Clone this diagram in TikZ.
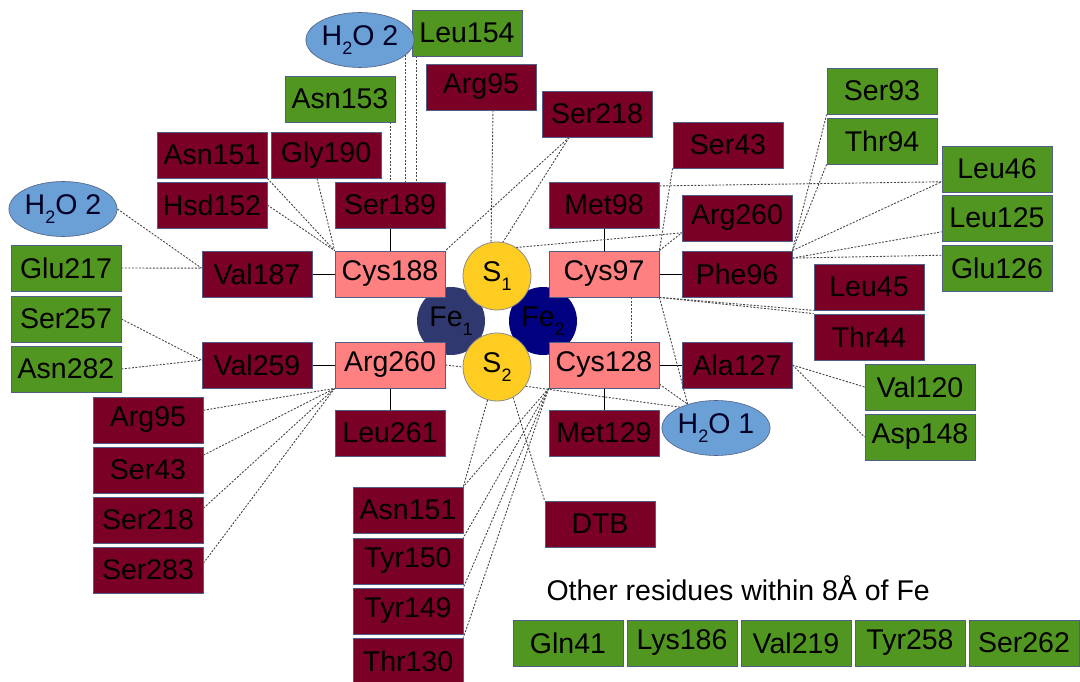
\documentclass[tikz,border=0pt]{standalone}
\usepackage{fontspec}
\setmainfont{Liberation Sans}
\usetikzlibrary{shapes.geometric,calc}
\definecolor{maroonc}{RGB}{123,0,38}
\definecolor{greenc}{RGB}{80,150,32}
\definecolor{pinkc}{RGB}{255,128,128}
\definecolor{yellowc}{RGB}{255,204,34}
\definecolor{fea}{RGB}{48,56,112}
\definecolor{feb}{RGB}{0,0,128}
\definecolor{waterc}{RGB}{106,160,214}
\definecolor{boxline}{RGB}{80,95,135}
\definecolor{dashc}{RGB}{70,70,70}
\newcommand\lowsub[1]{\raisebox{-0.3em}{\fontsize{18}{18}\selectfont #1}}
\pgfdeclarelayer{bg}
\pgfsetlayers{bg,main}
\begin{document}
\begin{tikzpicture}[x=1pt,y=-1pt,
  every node/.style={font=\fontsize{28.5}{32}\selectfont, text=black},
  res/.style={rectangle, minimum width=110pt, minimum height=46pt, inner sep=0pt, draw=boxline, line width=0.8pt},
  rbox/.style={res, fill=maroonc},
  gbox/.style={res, fill=greenc},
  pbox/.style={res, fill=pinkc},
  water/.style={ellipse, minimum width=88pt, minimum height=55pt, inner sep=0pt, fill=waterc, draw=boxline, line width=0.6pt, text=black!85!blue},
  satom/.style={circle, minimum size=68pt, inner sep=0pt, fill=yellowc, draw=black!45, line width=0.8pt},
  featom/.style={circle, minimum size=68pt, inner sep=0pt},
  dl/.style={draw=dashc, dash pattern=on 2pt off 1.5pt, line width=0.9pt},
  sl/.style={draw=black, line width=1pt}]
\useasboundingbox (0,0) rectangle (1080,682);

% iron-sulfur core
\node[featom, fill=fea] (Fe1) at (451,321) {Fe\lowsub{1}};
\node[featom, fill=feb] (Fe2) at (543,321) {Fe\lowsub{2}};
\node[satom] (S1) at (497,276) {S\lowsub{1}};
\node[satom] (S2) at (497,367) {S\lowsub{2}};

% pink ligands
\node[pbox] (Cys188) at (390,274) {Cys188};
\node[pbox] (Arg260l) at (390,365) {Arg260};
\node[pbox] (Cys97) at (604,274) {Cys97};
\node[pbox] (Cys128) at (604,365) {Cys128};

% maroon residues
\node[rbox] (Arg95t) at (481,87) {Arg95};
\node[rbox] (Asn151t) at (212,155) {Asn151};
\node[rbox] (Gly190) at (326,155) {Gly190};
\node[rbox] (Hsd152) at (212,205) {Hsd152};
\node[rbox] (Ser189) at (390,205) {Ser189};
\node[rbox] (Ser218t) at (597,114) {Ser218};
\node[rbox] (Ser43t) at (728,145) {Ser43};
\node[rbox] (Met98) at (604,205) {Met98};
\node[rbox] (Arg260r) at (737,218) {Arg260};
\node[rbox] (Val187) at (257,274) {Val187};
\node[rbox] (Val259) at (257,365) {Val259};
\node[rbox] (Arg95l) at (148,420) {Arg95};
\node[rbox] (Leu261) at (390,433) {Leu261};
\node[rbox] (Phe96) at (737,274) {Phe96};
\node[rbox] (Leu45) at (869,287) {Leu45};
\node[rbox] (Thr44) at (869,337) {Thr44};
\node[rbox] (Ala127) at (737,365) {Ala127};
\node[rbox] (Met129) at (604,433) {Met129};
\node[rbox] (Ser43l) at (148,470) {Ser43};
\node[rbox] (Ser218l) at (148,520) {Ser218};
\node[rbox] (Ser283l) at (148,570) {Ser283};
\node[rbox] (Asn151b) at (408,510) {Asn151};
\node[rbox] (Tyr150) at (408,561) {Tyr150};
\node[rbox] (Tyr149) at (408,611) {Tyr149};
\node[rbox] (Thr130) at (408,661) {Thr130};
\node[rbox] (DTB) at (600,524) {DTB};

% green residues
\node[gbox] (Leu154) at (467,33) {Leu154};
\node[gbox] (Asn153) at (340,99) {Asn153};
\node[gbox] (Ser93) at (882,91) {Ser93};
\node[gbox] (Thr94) at (882,141) {Thr94};
\node[gbox] (Leu46) at (997,169) {Leu46};
\node[gbox] (Leu125) at (997,218) {Leu125};
\node[gbox] (Glu126) at (997,268) {Glu126};
\node[gbox] (Glu217) at (66,268) {Glu217};
\node[gbox] (Ser257) at (66,319) {Ser257};
\node[gbox] (Asn282) at (66,369) {Asn282};
\node[gbox] (Val120) at (920,387) {Val120};
\node[gbox] (Asp148) at (920,437) {Asp148};

% waters
\node[water] (H2Ot) at (360,40) {H\lowsub{2}O 2};
\node[water] (H2Ol) at (63,209) {H\lowsub{2}O 2};
\node[water] (H2O1) at (716,428) {H\lowsub{2}O 1};

% other residues
\node[anchor=base west] (other) at (543,600) {Other residues within 8Å of Fe};
\node[gbox] (Gln41) at (568,643) {Gln41};
\node[gbox] (Lys186) at (682,643) {Lys186};
\node[gbox] (Val219) at (796,643) {Val219};
\node[gbox] (Tyr258) at (910,643) {Tyr258};
\node[gbox] (Ser262) at (1024,643) {Ser262};

\coordinate (a153) at ([xshift=-5pt]Asn153.south east);
\coordinate (l154) at ([xshift=5pt]Leu154.south west);
\coordinate (a95) at ([xshift=12pt]Arg95t.south);
\coordinate (g190) at ([xshift=-9pt]Gly190.south);

\begin{pgfonlayer}{bg}
% solid bonds
\draw[sl] (Ser189.south) -- (Cys188.north);
\draw[sl] (Val187.east) -- (Cys188.west);
\draw[sl] (Val259.east) -- (Arg260l.west);
\draw[sl] (Arg260l.south) -- (Leu261.north);
\draw[sl] (Met98.south) -- (Cys97.north);
\draw[sl] (Cys97.east) -- (Phe96.west);
\draw[sl] (Cys128.east) -- (Ala127.west);
\draw[sl] (Cys128.south) -- (Met129.north);

% dashed contacts, top left
\draw[dl] (a153) -- (a153 |- Ser189.north);
\draw[dl] (H2Ot.342) -- (H2Ot.342 |- Ser189.north);
\draw[dl] (l154) -- (l154 |- Ser189.north);
\draw[dl] (Asn151t.south east) -- (Cys188.north west);
\draw[dl] (Hsd152.east) -- (Cys188.north west);
\draw[dl] (g190) -- (Cys188.north west);
\draw[dl] (H2Ol.east) -- (Val187.174);
\draw[dl] (Glu217.east) -- (Val187.174);
\draw[dl] (Ser257.east) -- (Val259.175);
\draw[dl] (Asn282.east) -- (Val259.175);

% left fan to Arg260
\draw[dl] (Arg95l.10) -- (Arg260l.south west);
\draw[dl] (Ser43l.15) -- (Arg260l.south west);
\draw[dl] (Ser218l.12) -- (Arg260l.south west);
\draw[dl] (Ser283l.7) -- (Arg260l.south west);
\draw[dl] (Arg260l.east) -- (S2.west);

% top centre
\draw[dl] (a95) -- (S1.100);
\draw[dl] (Ser218t.220) -- (Cys188.north east);
\draw[dl] (Ser218t.220) -- (S1.80);
\draw[dl] (S1.56) -- (Arg260r.195);
\draw[dl] (Ser43t.south west) -- (Cys97.north east);
\draw[dl] (Cys97.north east) -- (Arg260r.195);
\draw[dl] (Met98.19) -- (Leu46.193);

% right side
\draw[dl] (Ser93.south west) -- (Phe96.north east);
\draw[dl] (Thr94.south west) -- (Phe96.north east);
\draw[dl] (Phe96.north east) -- (Leu46.193);
\draw[dl] (Phe96.16) -- (Leu125.194);
\draw[dl] (Phe96.16) -- (Glu126.167);
\draw[dl] (Cys97.320) -- (Cys97.320 |- Cys128.north);
\draw[dl] (Cys97.south east) -- (Leu45.south west);
\draw[dl] (Cys97.south east) -- (Thr44.north west);
\draw[dl] (Cys97.south east) -- (H2O1.140);
\draw[dl] (Cys128.341) -- (H2O1.140);
\draw[dl] (S2.326) -- (H2O1.150);
\draw[dl] (Ala127.east) -- (Val120.west);
\draw[dl] (Ala127.east) -- (Asp148.west);

% bottom fan
\draw[dl] (S2.254) -- (Asn151b.north east);
\draw[dl] (S2.298) -- (DTB.north west);
\draw[dl] (Cys128.south west) -- (Asn151b.north east);
\draw[dl] (Cys128.south west) -- (Tyr150.north east);
\draw[dl] (Cys128.south west) -- (Tyr149.north east);
\draw[dl] (Cys128.south west) -- (Thr130.north east);
\end{pgfonlayer}
\end{tikzpicture}
\end{document}
